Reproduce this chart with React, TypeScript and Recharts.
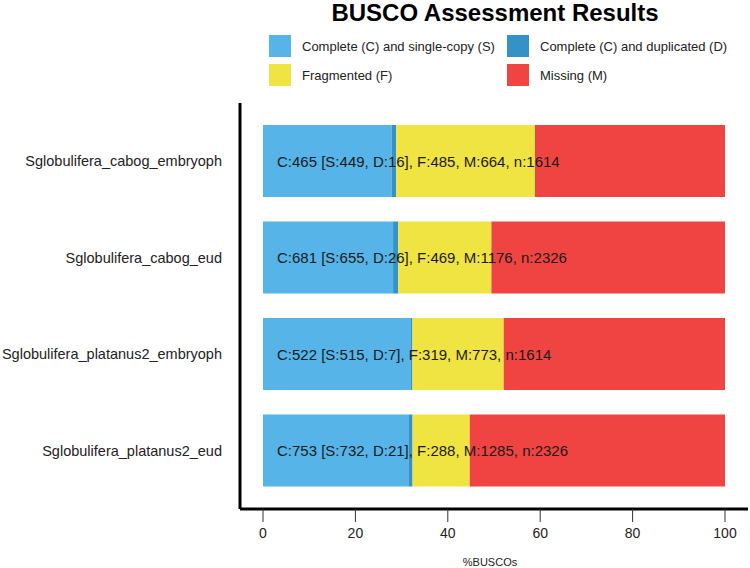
import React from 'react'
import { BarChart, Bar, XAxis, YAxis, Legend, LabelList, Label } from 'recharts'

const FONT = '"Liberation Sans", Arial, Helvetica, sans-serif'

const ASSEMBLIES = [
  'Sglobulifera_cabog_embryoph',
  'Sglobulifera_cabog_eud',
  'Sglobulifera_platanus2_embryoph',
  'Sglobulifera_platanus2_eud',
]
// percentages of BUSCOs per assembly
const SINGLE     = [27.82, 28.16, 31.91, 31.47]
const DUPLICATED = [0.99, 1.12, 0.43, 0.9]
const FRAGMENTED = [30.05, 20.16, 19.76, 12.38]
const MISSING    = [41.14, 50.56, 47.9, 55.25]
const SUMMARY = [
  'C:465 [S:449, D:16], F:485, M:664, n:1614',
  'C:681 [S:655, D:26], F:469, M:1176, n:2326',
  'C:522 [S:515, D:7], F:319, M:773, n:1614',
  'C:753 [S:732, D:21], F:288, M:1285, n:2326',
]
const X_TICKS = [0, 20, 40, 60, 80, 100]

const SERIES = [
  { key: 'single',     name: 'Complete (C) and single-copy (S)', color: '#56B4E9' },
  { key: 'duplicated', name: 'Complete (C) and duplicated (D)',  color: '#3492C7' },
  { key: 'fragmented', name: 'Fragmented (F)',                   color: '#F0E442' },
  { key: 'missing',    name: 'Missing (M)',                      color: '#F04442' },
]

const rows = ASSEMBLIES.map((name, i) => ({
  name,
  single:     SINGLE[i],
  duplicated: DUPLICATED[i],
  fragmented: FRAGMENTED[i],
  missing:    MISSING[i],
  summary:    SUMMARY[i],
}))

function renderSummary(props: any) {
  const { x, y, height, value } = props
  return (
    <text
      x={Number(x) + 14}
      y={Number(y) + Number(height) / 2}
      dominantBaseline="central"
      fontSize={15}
      fontFamily={FONT}
      fill="#1a1a1a"
    >
      {value}
    </text>
  )
}

function renderLegend() {
  return (
    <div style={{ position: 'relative', width: 750, height: 95, fontFamily: FONT }}>
      <div
        style={{
          position: 'absolute',
          left: 0,
          width: 990,
          top: -1,
          textAlign: 'center',
          fontSize: 24,
          fontWeight: 700,
          lineHeight: '28px',
          color: '#000',
        }}
      >
        BUSCO Assessment Results
      </div>
      {SERIES.map((s, i) => (
        <div
          key={s.key}
          style={{
            position: 'absolute',
            left: i % 2 === 0 ? 269 : 507,
            top: i < 2 ? 35 : 64,
            display: 'flex',
            alignItems: 'center',
            height: 22,
          }}
        >
          <span style={{ width: 22, height: 22, background: s.color, display: 'inline-block' }} />
          <span style={{ marginLeft: 11, fontSize: 13, color: '#222', whiteSpace: 'nowrap' }}>{s.name}</span>
        </div>
      ))}
    </div>
  )
}

export default function App() {
  return (
    <div style={{ position: 'absolute', left: 0, top: 0, width: 750, height: 568, background: '#fff' }}>
      <BarChart
        width={750}
        height={568}
        data={rows}
        layout="vertical"
        margin={{ top: 103, right: 2, bottom: 0, left: 0 }}
        barSize={72}
      >
        <XAxis
          type="number"
          domain={[0, 100]}
          ticks={X_TICKS}
          padding={{ left: 23, right: 23 }}
          height={59}
          axisLine={{ stroke: '#000', strokeWidth: 3 }}
          tickLine={{ stroke: '#333' }}
          tickSize={13}
          tickMargin={6}
          tick={{ fontSize: 14, fill: '#222', fontFamily: FONT }}
        >
          <Label
            content={(p: any) => {
              const vb = p.viewBox
              return (
                <text
                  x={vb.x + vb.width / 2 - 4}
                  y={562}
                  textAnchor="middle"
                  dominantBaseline="central"
                  fontSize={11}
                  fontFamily={FONT}
                  fill="#222"
                >
                  %BUSCOs
                </text>
              )
            }}
          />
        </XAxis>
        <YAxis
          type="category"
          dataKey="name"
          width={240}
          padding={{ top: 10, bottom: 10 }}
          axisLine={{ stroke: '#000', strokeWidth: 3 }}
          tickLine={false}
          tickSize={0}
          tickMargin={18}
          tick={{ fontSize: 14.5, fill: '#222', fontFamily: FONT }}
        />
        <Legend
          layout="horizontal"
          verticalAlign="middle"
          align="center"
          wrapperStyle={{ position: 'absolute', left: 0, top: 0, width: 750, height: 95 }}
          content={renderLegend}
        />
        {SERIES.map((s, i) => (
          <Bar key={s.key} dataKey={s.key} name={s.name} stackId="a" fill={s.color} isAnimationActive={false}>
            {i === 0 && <LabelList dataKey="summary" content={renderSummary} />}
          </Bar>
        ))}
      </BarChart>
    </div>
  )
}
